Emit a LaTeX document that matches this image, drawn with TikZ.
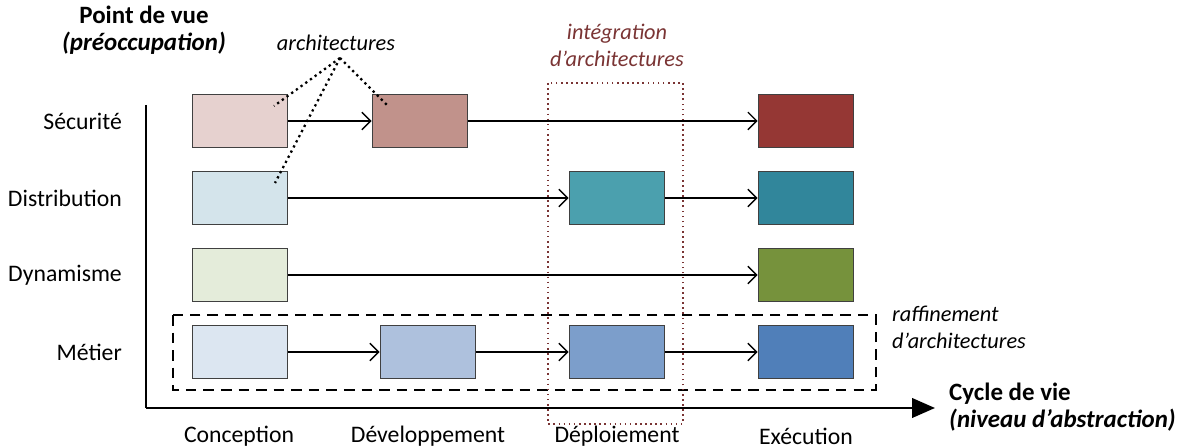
\documentclass[tikz,border=0pt]{standalone}
\usepackage{fontspec}
\setmainfont{Carlito}
\usepackage{xcolor}
\definecolor{secA}{RGB}{230, 209, 207}
\definecolor{secB}{RGB}{193, 146, 139}
\definecolor{secD}{RGB}{149, 55, 52}
\definecolor{disA}{RGB}{212, 228, 235}
\definecolor{disC}{RGB}{75, 160, 174}
\definecolor{disD}{RGB}{49, 134, 155}
\definecolor{dynA}{RGB}{228, 236, 218}
\definecolor{dynD}{RGB}{118, 146, 60}
\definecolor{metA}{RGB}{220, 230, 241}
\definecolor{metB}{RGB}{174, 193, 221}
\definecolor{metC}{RGB}{124, 158, 203}
\definecolor{metD}{RGB}{80, 127, 185}
\definecolor{integr}{RGB}{122, 52, 52}
\usetikzlibrary{arrows.meta, positioning, calc}

\begin{document}
\begin{tikzpicture}[
    x=0.02cm, y=-0.02cm,
    font=\fontsize{13.5}{16}\selectfont,
    archi/.style={rectangle, draw=black!75, line width=0.9pt, minimum width=1.9cm, minimum height=1.06cm, inner sep=0pt},
    flow/.style={-{Straight Barb[length=5pt,width=10pt]}, line width=0.8pt},
    rowlabel/.style={anchor=east},
    collabel/.style={anchor=center},
    axistitle/.style={font=\fontsize{14.2}{15.5}\selectfont\bfseries},
    note/.style={font=\fontsize{12.7}{15.5}\selectfont\itshape, align=left}
]
    \useasboundingbox (0,0) rectangle (1179,448);

    % axes
    \coordinate (origin) at (146,408);
    \coordinate (ytop) at (146,105);
    \coordinate (xend) at (935,408);
    \draw[line width=1.5pt] (ytop) -- (origin);
    \draw[line width=1.5pt, -{Triangle[length=13pt,width=11pt]}] (origin) -- (xend);

    \node[axistitle, align=center] (yaxis) at (144,30) {Point de vue\\\textit{(préoccupation)}};
    \node[axistitle, align=left, anchor=west] (xaxis) at (943,407) {Cycle de vie\\\textit{(niveau d'abstraction)}};

    % rows
    \node[rowlabel] (lsec) at (128,121) {Sécurité};
    \node[rowlabel] (ldis) at (128,198) {Distribution};
    \node[rowlabel] (ldyn) at (128,275) {Dynamisme};
    \node[rowlabel] (lmet) at (128,352) {Métier};

    % columns
    \node[collabel] (ccon) at (239,436) {Conception};
    \node[collabel] (cdev) at (428,436) {Développement};
    \node[collabel] (cdep) at (617,436) {Déploiement};
    \node[collabel] (cexe) at (806,436) {Exécution};

    % groups
    \draw[dashed, dash pattern=on 6pt off 4pt, line width=1pt] (173,315) rectangle (876,390);
    \draw[integr, dotted, line width=0.9pt] (548,83) rectangle (683,424);
    \node[note, integr, align=center] (integ) at (617,45) {intégration\\d'architectures};
    \node[note, anchor=west] (raff) at (886,327) {raffinement\\d'architectures};

    % architectures
    \node[archi, fill=secA] (sec1) at (240,121) {};
    \node[archi, fill=secB] (sec2) at (420,121) {};
    \node[archi, fill=secD] (sec4) at (806,121) {};
    \node[archi, fill=disA] (dis1) at (240,198) {};
    \node[archi, fill=disC] (dis3) at (617,198) {};
    \node[archi, fill=disD] (dis4) at (806,198) {};
    \node[archi, fill=dynA] (dyn1) at (240,275) {};
    \node[archi, fill=dynD] (dyn4) at (806,275) {};
    \node[archi, fill=metA] (met1) at (240,352) {};
    \node[archi, fill=metB] (met2) at (428,352) {};
    \node[archi, fill=metC] (met3) at (617,352) {};
    \node[archi, fill=metD] (met4) at (806,352) {};

    \draw[flow] (sec1) -- (sec2);
    \draw[flow] (sec2) -- (sec4);
    \draw[flow] (dis1) -- (dis3);
    \draw[flow] (dis3) -- (dis4);
    \draw[flow] (dyn1) -- (dyn4);
    \draw[flow] (met1) -- (met2);
    \draw[flow] (met2) -- (met3);
    \draw[flow] (met3) -- (met4);

    % architectures label
    \node[note] (archs) at (336,43) {architectures};
    \coordinate (tip) at (340,58);
    \draw[dotted, line width=1.3pt] (tip) -- (274,106);
    \draw[dotted, line width=1.3pt] (tip) -- (389,107);
    \draw[dotted, line width=1.3pt] (tip) -- (275,183);
\end{tikzpicture}
\end{document}
